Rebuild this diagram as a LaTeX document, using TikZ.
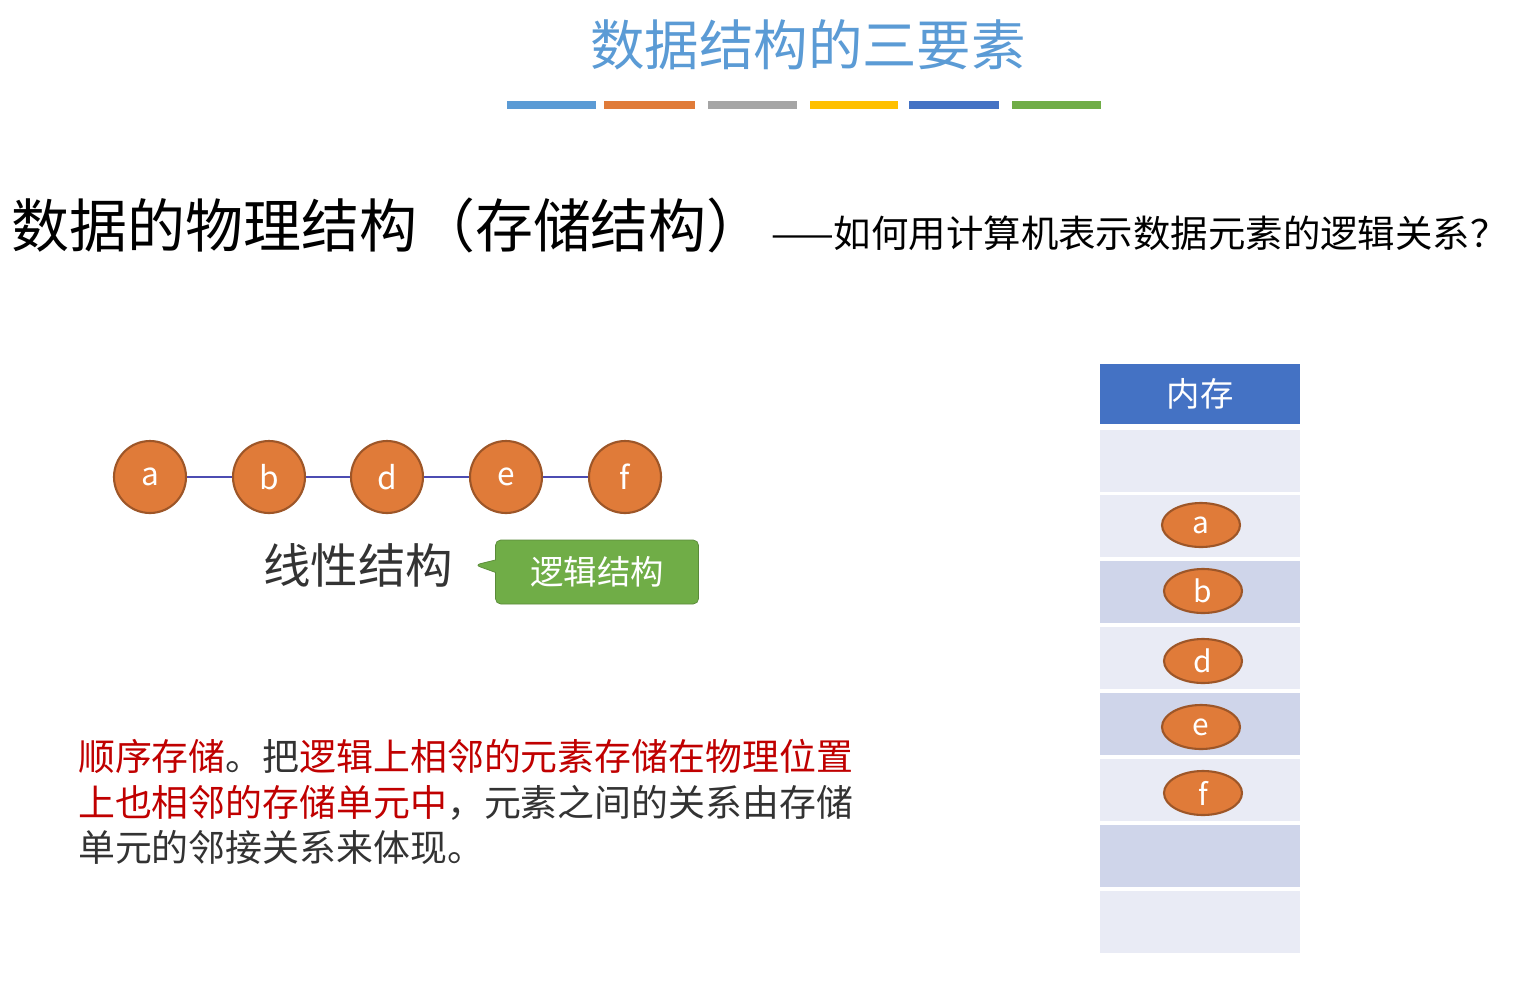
\documentclass[tikz,border=0pt]{standalone}
\usepackage{fontspec}
\setmainfont{Noto Sans CJK SC}
\newfontfamily\cjk{Noto Sans CJK SC}
\usetikzlibrary{shapes.geometric,shapes.callouts}
\definecolor{tblue}{HTML}{5B9BD5}
\definecolor{torange}{HTML}{E07B39}
\definecolor{tgray}{HTML}{A5A5A5}
\definecolor{tyellow}{HTML}{FFC000}
\definecolor{tdblue}{HTML}{4472C4}
\definecolor{tgreen}{HTML}{70AD47}
\definecolor{cellA}{HTML}{E9EBF5}
\definecolor{cellB}{HTML}{CFD5EA}
\definecolor{tred}{HTML}{C00000}
\tikzset{
 elem/.style={circle,fill=torange,draw=torange!70!black,line width=1.2pt,minimum size=72*0.02cm,inner sep=0,text=white,font=\fontsize{18}{18}\selectfont},
 memel/.style={ellipse,fill=torange,draw=torange!70!black,line width=1.2pt,minimum width=78*0.02cm,minimum height=44*0.02cm,inner sep=0,text=white,font=\fontsize{17}{17}\selectfont},
 cell/.style={draw=white,line width=1.5pt,minimum width=202*0.02cm,minimum height=64*0.02cm,inner sep=0},
 bar/.style={line width=8*0.02cm},
 link/.style={draw=gray!60!blue,line width=1.3pt}
}
\begin{document}
\begin{tikzpicture}[x=0.02cm,y=-0.02cm]
\useasboundingbox[fill=white] (0,0) rectangle (1535,998);
\node[text=tblue,font=\fontsize{31}{31}\selectfont] (title) at (808,45) {数据结构的三要素};
\foreach \a/\b/\c in {507/596/tblue,604/695/torange,708/797/tgray,810/898/tyellow,909/999/tdblue,1012/1101/tgreen}
  \draw[bar,\c] (\a,105) -- (\b,105);
\node[anchor=west,font=\fontsize{33}{33}\selectfont] (head) at (5,225) {数据的物理结构（存储结构）};
\node[anchor=west,font=\fontsize{21.3}{21.3}\selectfont] (sub) at (765,233) {——如何用计算机表示数据元素的逻辑关系？};
\node[elem] (a) at (150,477) {a};
\node[elem] (b) at (269,477) {b};
\node[elem] (d) at (387,477) {d};
\node[elem] (e) at (506,477) {e};
\node[elem] (f) at (625,477) {f};
\draw[link] (a)--(b) (b)--(d) (d)--(e) (e)--(f);
\node[font=\fontsize{27}{27}\selectfont,text=black!80] (lin) at (358,565) {线性结构};
\node[rectangle callout,fill=tgreen,draw=tgreen!80!black,rounded corners=3pt,text=white,
  minimum width=203*0.02cm,minimum height=64*0.02cm,font=\fontsize{19}{19}\selectfont,
  callout absolute pointer={(475,565)}] (logic) at (597,572) {逻辑结构};
\node[anchor=north west,align=left,font=\fontsize{21}{26}\selectfont,text=black!80] (para) at (72,733) {%
{\color{tred}顺序存储}。把{\color{tred}逻辑上相邻的元素存储在物理位置}\\
{\color{tred}上也相邻的存储单元中}，元素之间的关系由存储\\
单元的邻接关系来体现。};
\node[cell,fill=tdblue,minimum height=62*0.02cm,text=white,font=\fontsize{19}{19}\selectfont] (mem) at (1200,394) {内存};
\node[cell,fill=cellA] (c1) at (1200,461) {};
\node[cell,fill=cellA] (c2) at (1200,526) {};
\node[cell,fill=cellB] (c3) at (1200,592) {};
\node[cell,fill=cellA] (c4) at (1200,658) {};
\node[cell,fill=cellB] (c5) at (1200,724) {};
\node[cell,fill=cellA] (c6) at (1200,790) {};
\node[cell,fill=cellB] (c7) at (1200,856) {};
\node[cell,fill=cellA] (c8) at (1200,922) {};
\node[memel] (ma) at (1201,525) {a};
\node[memel] (mb) at (1203,591) {b};
\node[memel] (md) at (1203,661) {d};
\node[memel] (me) at (1201,727) {e};
\node[memel] (mf) at (1203,793) {f};
\end{tikzpicture}
\end{document}
